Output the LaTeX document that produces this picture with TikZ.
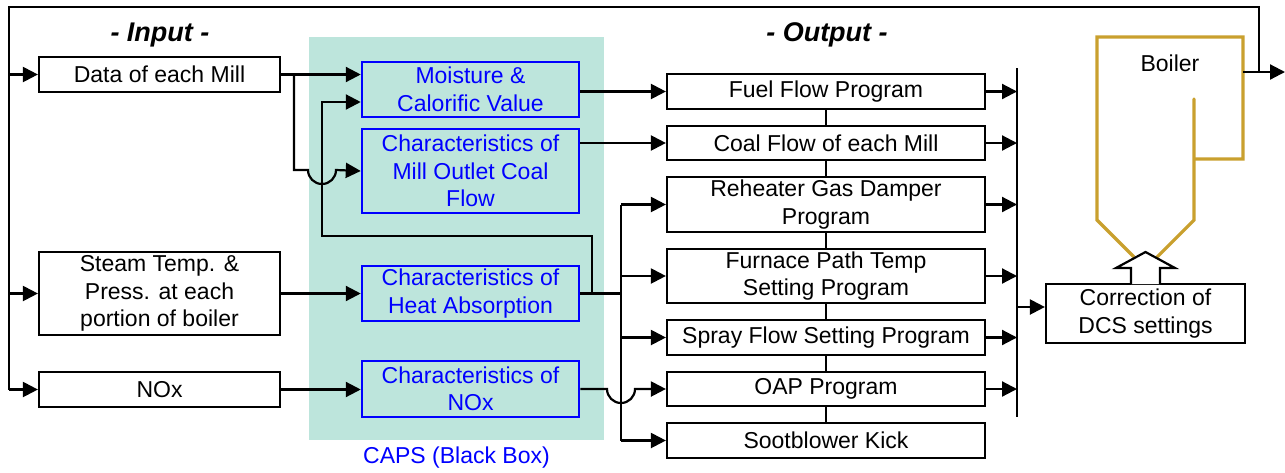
\documentclass[tikz,border=0pt]{standalone}
\usepackage{fontspec}
\setmainfont{Liberation Sans}
\usetikzlibrary{arrows.meta}
\definecolor{capsbg}{RGB}{189,229,220}
\definecolor{gold}{RGB}{201,160,46}
\begin{document}
\begin{tikzpicture}[x=1pt,y=-1pt,
  line width=2.2pt,
  every node/.style={font=\fontsize{23}{27.5}\selectfont, inner sep=0pt, align=center},
  bbox/.style={draw=black, fill=white, line width=2.2pt, text=black},
  bluebox/.style={draw=blue, fill=capsbg, line width=2.5pt, text=blue},
  conn/.style={draw=black, line width=2.2pt},
  arr/.style={conn, -{Triangle[length=15pt,width=15pt]}},
  ttl/.style={font=\fontsize{27}{30}\selectfont\bfseries\itshape}]
\useasboundingbox (0,0) rectangle (1285,472);
% CAPS background
\fill[capsbg] (309,37) rectangle (604,440);
\node[text=blue] (capslbl) at (456.5,458) {CAPS (Black Box)};
% titles
\node[ttl] (tin) at (160,35) {- Input -};
\node[ttl] (tout) at (827,35) {- Output -};
% output spine (behind boxes)
\coordinate (spt) at (826,91);
\coordinate (spb) at (826,440);
\draw[conn] (spt) -- (spb);
% input boxes
\node[bbox, minimum width=241pt, minimum height=35pt] (data) at (159.5,74.5) {Data of each Mill};
\node[bbox, minimum width=241pt, minimum height=83pt] (steam) at (159.5,293.5) {Steam Temp. \&\\Press. at each\\portion of boiler};
\node[bbox, minimum width=241pt, minimum height=35pt] (nox) at (159.5,389.5) {NOx};
% CAPS boxes
\node[bluebox, minimum width=217pt, minimum height=55pt] (moist) at (470.5,89.5) {Moisture \&\\Calorific Value};
\node[bluebox, minimum width=217pt, minimum height=84pt] (mill) at (470.5,171) {Characteristics of\\Mill Outlet Coal\\Flow};
\node[bluebox, minimum width=217pt, minimum height=55pt] (heat) at (470.5,293.5) {Characteristics of\\Heat Absorption};
\node[bluebox, minimum width=217pt, minimum height=56pt] (cnox) at (470.5,389) {Characteristics of\\NOx};
% output boxes
\node[bbox, minimum width=318pt, minimum height=35pt] (fuel) at (826,91.5) {Fuel Flow Program};
\node[bbox, minimum width=318pt, minimum height=34pt] (coal) at (826,143) {Coal Flow of each Mill};
\node[bbox, minimum width=318pt, minimum height=55pt] (reh) at (826,204.5) {Reheater Gas Damper\\Program};
\node[bbox, minimum width=318pt, minimum height=54pt] (furn) at (826,276) {Furnace Path Temp\\Setting Program};
\node[bbox, minimum width=318pt, minimum height=35pt] (spray) at (826,337.5) {Spray Flow Setting Program};
\node[bbox, minimum width=318pt, minimum height=34pt] (oap) at (826,389) {OAP Program};
\node[bbox, minimum width=318pt, minimum height=35pt] (soot) at (826,440.5) {Sootblower Kick};
% correction box
\node[bbox, minimum width=199pt, minimum height=59pt] (corr) at (1145.5,313.5) {Correction of\\DCS settings};
% boiler
\draw[gold, line width=3.2pt, line join=miter] (1134,257) -- (1097,220) -- (1097,37) -- (1243,37) -- (1243,159) -- (1194,159);
\draw[gold, line width=3.2pt, line join=miter, line cap=round] (1194,99) -- (1194,220) -- (1157,257);
\node (boilerlbl) at (1170,63) {Boiler};
\coordinate (bout) at (1243,72);
% block arrow
\draw[conn, fill=white, line join=miter] (1131,284) -- (1131,268) -- (1116,268) -- (1145.5,252) -- (1175,268) -- (1160,268) -- (1160,284);
% feedback loop
\coordinate (fbr) at (1259,72);
\coordinate (fbtr) at (1259,7);
\coordinate (fbtl) at (9,7);
\coordinate (fbbl) at (9,389.5);
\coordinate (edge) at (1285,72);
\draw[arr] (bout) -- (edge);
\draw[conn] (fbr) -- (fbtr) -- (fbtl) -- (fbbl);
\draw[arr] (9,74.5) -- (data.west);
\draw[arr] (9,293.5) -- (steam.west);
\draw[arr] (fbbl) -- (nox.west);
% input to CAPS
\draw[arr] (data.east) -- (data.east -| moist.west);
\coordinate (br1) at (294,74.5);
\draw[arr] (br1) -- (294,170) -- (308,170) arc[start angle=180, end angle=0, radius=14] -- (mill.west);
\draw[arr] (steam.east) -- (steam.east -| heat.west);
\draw[arr] (nox.east) -- (nox.east -| cnox.west);
% heat absorption feedback to moisture
\coordinate (hb) at (592,293.5);
\draw[arr] (hb) -- (592,236) -- (322,236) -- (322,102) -- (moist.west |- 0,102);
% CAPS to outputs
\draw[arr] (moist.east |- fuel.west) -- (fuel.west);
\draw[arr] (mill.east |- coal.west) -- (coal.west);
\coordinate (bus) at (621,293.5);
\draw[conn] (heat.east) -- (bus);
\draw[conn] (621,204.5) -- (621,440.5);
\draw[arr] (621,204.5) -- (reh.west);
\draw[arr] (621,276) -- (furn.west);
\draw[arr] (621,337.5) -- (spray.west);
\draw[arr] (621,440.5) -- (soot.west);
\draw[arr] (cnox.east |- oap.west) -- (607,389) arc[start angle=180, end angle=0, radius=14] -- (oap.west);
% outputs to right bus
\coordinate (rbt) at (1017,68);
\coordinate (rbb) at (1017,417);
\draw[conn] (rbt) -- (rbb);
\draw[arr] (fuel.east) -- (fuel.east -| rbt);
\draw[arr] (coal.east) -- (coal.east -| rbt);
\draw[arr] (reh.east) -- (reh.east -| rbt);
\draw[arr] (furn.east) -- (furn.east -| rbt);
\draw[arr] (spray.east) -- (spray.east -| rbt);
\draw[arr] (oap.east) -- (oap.east -| rbt);
\draw[arr] (1017,307) -- (corr.west |- 0,307);
\end{tikzpicture}
\end{document}
